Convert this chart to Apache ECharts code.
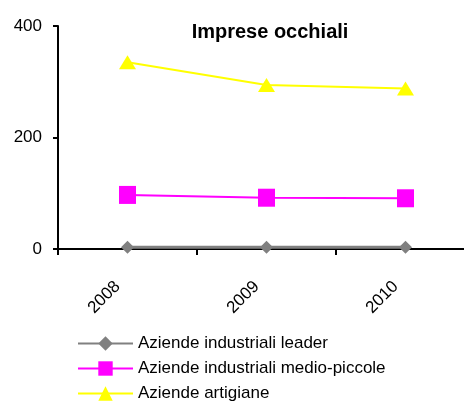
<!DOCTYPE html>
<html><head><meta charset="utf-8">
<script src="https://cdn.jsdelivr.net/npm/echarts@6/dist/echarts.min.js"></script>
<style>html,body{margin:0;padding:0;background:#fff;overflow:hidden}#c{width:480px;height:430px}</style>
</head><body><div id="c"></div>
<script>
const categories = ['2008', '2009', '2010'];
const leader = [3, 3, 3];
const medioPiccole = [97, 92, 91];
const artigiane = [335, 294, 288];
const yTicks = [0, 200, 400];
const seriesNames = ['Aziende industriali leader', 'Aziende industriali medio-piccole', 'Aziende artigiane'];

const font = "'Liberation Sans', Arial, sans-serif";
const chart = echarts.init(document.getElementById('c'));
chart.setOption({
  animation: false,
  title: {
    text: 'Imprese occhiali', left: 265, top: 17, textAlign: 'center',
    textStyle: { fontFamily: font, fontSize: 20, fontWeight: 'bold', color: '#000' }
  },
  legend: {
    orient: 'vertical', left: 72, top: 330, height: 90, itemWidth: 55, itemHeight: 18, itemGap: 8,
    textStyle: { fontFamily: font, fontSize: 17, color: '#000' },
    data: seriesNames
  },
  grid: { left: 58, top: 26, right: 5, height: 223, containLabel: false },
  xAxis: {
    type: 'category', data: categories, boundaryGap: true,
    axisLine: { lineStyle: { color: '#000', width: 2 } },
    axisTick: { show: true, length: 6, lineStyle: { color: '#000', width: 2 } },
    axisLabel: { rotate: 45, margin: 25, padding: [0, 14, 0, 0], color: '#000', fontFamily: font, fontSize: 17 },
    splitLine: { show: false }
  },
  yAxis: {
    type: 'value', min: 0, max: 400, interval: 200,
    axisLine: { show: true, lineStyle: { color: '#000', width: 2 } },
    axisTick: { show: true, length: 5, lineStyle: { color: '#000', width: 2 } },
    axisLabel: { color: '#000', fontFamily: font, fontSize: 17, margin: 16 },
    splitLine: { show: false }
  },
  series: [
    { name: seriesNames[0], type: 'line', data: leader, symbol: 'diamond', symbolSize: 13,
      lineStyle: { color: '#808080', width: 3 }, itemStyle: { color: '#808080' }, z: 3 },
    { name: seriesNames[1], type: 'line', data: medioPiccole, symbol: 'rect', symbolSize: [17, 18],
      lineStyle: { color: '#ff00ff', width: 2 }, itemStyle: { color: '#ff00ff' }, z: 2 },
    { name: seriesNames[2], type: 'line', data: artigiane, symbol: 'triangle', symbolSize: [17, 14],
      lineStyle: { color: '#ffff00', width: 2 }, itemStyle: { color: '#ffff00' }, z: 1 }
  ]
});
</script></body></html>
